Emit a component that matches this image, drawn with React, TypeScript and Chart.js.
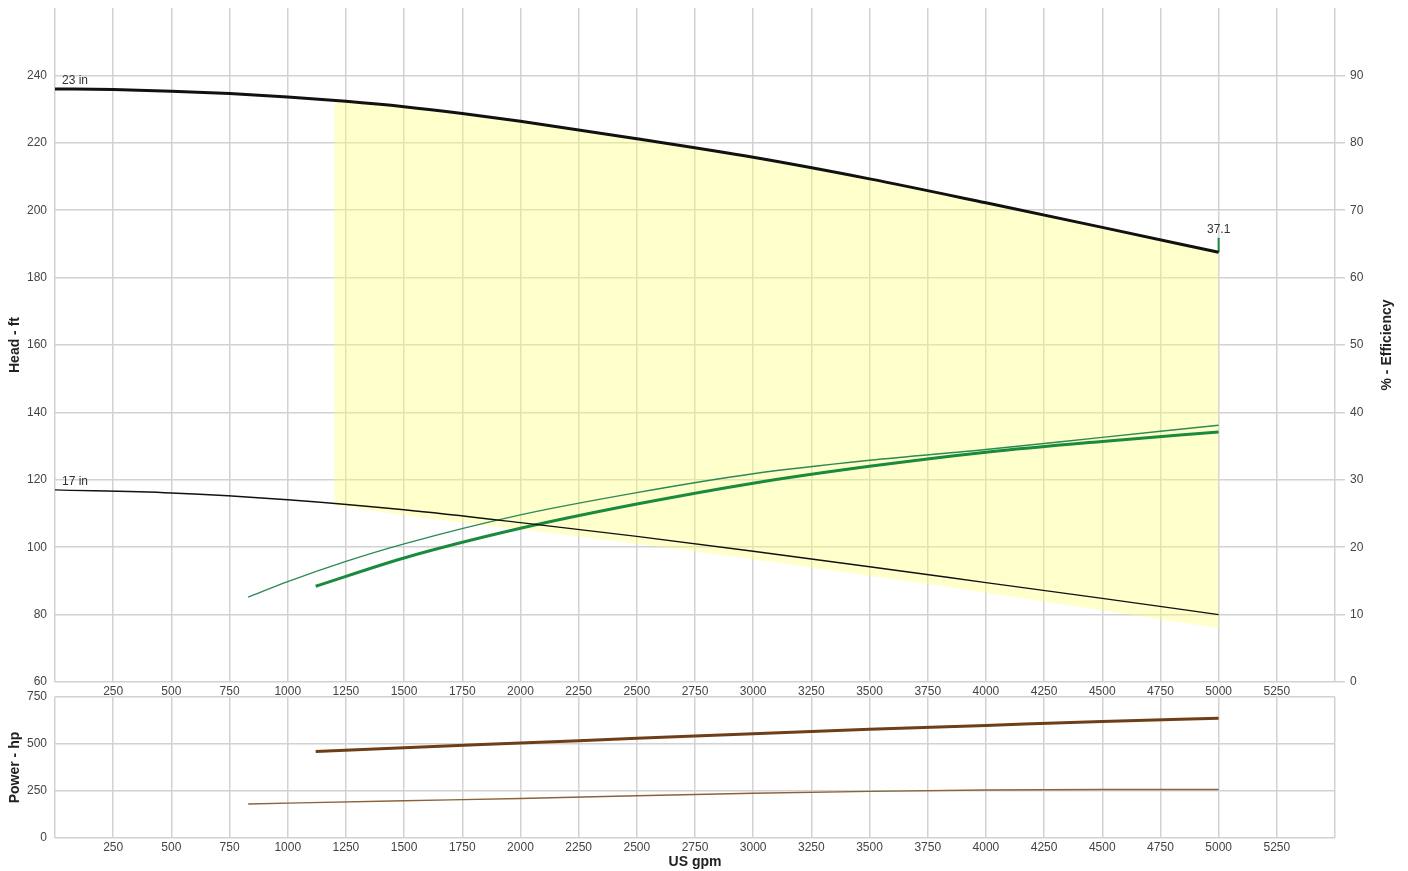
import React, { useEffect, useRef } from "react";
import { Chart, registerables } from "chart.js";

Chart.register(...registerables);

// ---- Data ----
const FLOW_TICK_STEP = 250;
const FLOW_MIN = 0;
const FLOW_MAX = 5500;

const HEAD_TICKS = { min: 60, max: 260, step: 20 };
const EFF_TICKS = { min: 0, max: 100, step: 10 };
const POWER_TICKS = { min: 0, max: 750, step: 250 };

const FLOW_23 = [0, 250, 500, 750, 1000, 1250, 1500, 1750, 2000, 2500, 3000, 3500, 4000, 4500, 5000];
const HEAD_23 = [236, 235.8, 235.3, 234.6, 233.6, 232.3, 230.7, 228.7, 226.4, 221.2, 215.7, 209.3, 202.2, 194.9, 187.5];

const FLOW_17 = [0, 500, 1000, 1500, 2000, 2500, 3000, 3500, 4000, 4500, 5000];
const HEAD_17 = [117, 116.1, 114.1, 111.1, 107.3, 103.2, 98.8, 94.2, 89.5, 84.8, 80];

const FLOW_EFF_23 = [1120, 1500, 2000, 2500, 3000, 3500, 4000, 4500, 5000];
const EFF_23 = [14.2, 18.4, 22.8, 26.4, 29.5, 32.0, 34.1, 35.7, 37.1];

const FLOW_EFF_17 = [830, 1000, 1250, 1500, 2000, 2500, 3000, 3500, 4000, 4500, 5000];
const EFF_17 = [12.6, 14.9, 17.9, 20.5, 24.8, 28.1, 30.9, 32.9, 34.5, 36.3, 38.1];

const FLOW_POW_23 = [1120, 1500, 2000, 2500, 3000, 3500, 4000, 4500, 5000];
const POW_23 = [460, 480, 505, 530, 555, 578, 599, 620, 637];

const FLOW_POW_17 = [830, 1500, 2000, 2500, 3000, 3500, 4000, 4500, 5000];
const POW_17 = [181, 198, 210, 225, 238, 248, 255, 258, 258];

// Allowable operating region (shaded)
const REGION_FLOW = [1200, 1500, 2000, 2500, 3000, 3500, 4000, 4500, 5000];
const REGION_UPPER = [232.6, 230.7, 226.4, 221.2, 215.7, 209.3, 202.2, 194.9, 187.5];
const REGION_LOWER = [112.5, 109.5, 105.3, 101.0, 96.4, 91.5, 86.5, 81.3, 76.0];

// Efficiency marker at the end of the 23 in curve
const MARKER_FLOW = [5000, 5000];
const MARKER_HEAD = [187.5, 191.8];
const MARKER_LABEL = "37.1";

const CURVE_LABELS = [
  { text: "23 in", flow: 30, head: 236 },
  { text: "17 in", flow: 30, head: 117 },
];

// ---- Styling ----
const FONT = "'Liberation Sans', Arial, sans-serif";
const GRID = "#d2d2d2";
const TICK_COLOR = "#444";
const TITLE_COLOR = "#222";

const pts = (xs: number[], ys: number[]) => xs.map((x, i) => ({ x, y: ys[i] }));

const flowTickCb = (v: any) => (v === FLOW_MIN || v === FLOW_MAX ? "" : String(v));

const fixSize = (w: number | null, h: number | null) => (s: any) => {
  if (w !== null) s.width = w;
  if (h !== null) s.height = h;
  s.paddingTop = 0;
  s.paddingBottom = 0;
  s.paddingLeft = 0;
  s.paddingRight = 0;
};

function xScale(height: number, title?: string) {
  return {
    type: "linear",
    min: FLOW_MIN,
    max: FLOW_MAX,
    afterFit: fixSize(null, height),
    border: { display: false },
    grid: { color: GRID, lineWidth: 1.5, drawTicks: false },
    ticks: {
      stepSize: FLOW_TICK_STEP,
      autoSkip: false,
      maxRotation: 0,
      padding: 2,
      color: TICK_COLOR,
      font: { size: 12, family: FONT },
      callback: flowTickCb,
    },
    title: title
      ? {
          display: true,
          text: title,
          color: TITLE_COLOR,
          font: { size: 14, weight: "bold", family: FONT },
          padding: { top: 0, bottom: 0 },
        }
      : { display: false },
  };
}

const topLabelsPlugin = {
  id: "topLabels",
  afterDatasetsDraw(chart: any) {
    const { ctx, scales } = chart;
    const x = scales.x;
    const y = scales.y;
    ctx.save();
    ctx.fillStyle = "#333";
    ctx.font = `12px ${FONT}`;
    ctx.textBaseline = "middle";
    ctx.textAlign = "left";
    CURVE_LABELS.forEach((l) => {
      ctx.fillText(l.text, x.getPixelForValue(l.flow), y.getPixelForValue(l.head) - 8);
    });
    ctx.textAlign = "center";
    ctx.fillText(
      MARKER_LABEL,
      x.getPixelForValue(MARKER_FLOW[1]),
      y.getPixelForValue(MARKER_HEAD[1]) - 8
    );
    // right axis title, reading bottom-to-top
    const area = chart.chartArea;
    ctx.translate(1387, (area.top + area.bottom) / 2);
    ctx.rotate(-Math.PI / 2);
    ctx.fillStyle = TITLE_COLOR;
    ctx.font = `bold 14px ${FONT}`;
    ctx.fillText("% - Efficiency", 0, 0);
    ctx.restore();
  },
};

export default function App() {
  const topRef = useRef<HTMLCanvasElement>(null);
  const botRef = useRef<HTMLCanvasElement>(null);

  useEffect(() => {
    Chart.defaults.font.family = FONT;
    const line = (data: any[], color: string, width: number, axis: string, extra: any = {}) => ({
      type: "line",
      data,
      borderColor: color,
      borderWidth: width,
      pointRadius: 0,
      fill: false,
      yAxisID: axis,
      cubicInterpolationMode: "monotone",
      ...extra,
    });

    const top = new Chart(topRef.current as HTMLCanvasElement, {
      type: "line",
      data: {
        datasets: [
          line(pts(FLOW_23, HEAD_23), "#111", 3, "y"),
          line(pts(FLOW_17, HEAD_17), "#111", 1.4, "y"),
          line(pts(FLOW_EFF_23, EFF_23), "#1a8a3c", 3, "y1"),
          line(pts(FLOW_EFF_17, EFF_17), "#2a8a55", 1.4, "y1"),
          line(pts(MARKER_FLOW, MARKER_HEAD), "#1a8a3c", 2, "y", { tension: 0, cubicInterpolationMode: "default" }),
          line(pts(REGION_FLOW, REGION_UPPER), "rgba(0,0,0,0)", 0, "y", {
            fill: "+1",
            backgroundColor: "rgba(255,255,120,0.38)",
          }),
          line(pts(REGION_FLOW, REGION_LOWER), "rgba(0,0,0,0)", 0, "y"),
        ],
      },
      options: {
        animation: false,
        responsive: true,
        maintainAspectRatio: false,
        layout: { autoPadding: false, padding: { top: 8, left: 0, right: 0, bottom: 0 } },
        plugins: { legend: { display: false }, tooltip: { enabled: false } },
        scales: {
          x: xScale(15),
          y: {
            type: "linear",
            position: "left",
            min: HEAD_TICKS.min,
            max: HEAD_TICKS.max,
            afterFit: fixSize(55, null),
            border: { display: false },
            grid: {
              lineWidth: 1.5,
              drawTicks: false,
              color: (c: any) => (c.tick && c.tick.value === HEAD_TICKS.max ? "rgba(0,0,0,0)" : GRID),
            },
            ticks: {
              stepSize: HEAD_TICKS.step,
              padding: 8,
              color: TICK_COLOR,
              font: { size: 12, family: FONT },
              callback: (v: any) => (v === HEAD_TICKS.max ? "" : String(v)),
            },
            title: {
              display: true,
              text: "Head - ft",
              color: TITLE_COLOR,
              font: { size: 14, weight: "bold", family: FONT },
              padding: { top: 7, bottom: 0 },
            },
          },
          y1: {
            type: "linear",
            position: "right",
            min: EFF_TICKS.min,
            max: EFF_TICKS.max,
            afterFit: fixSize(73, null),
            border: { display: false },
            grid: {
              drawOnChartArea: false,
              drawTicks: true,
              tickLength: 10,
              lineWidth: 1.5,
              color: (c: any) => (c.tick && c.tick.value === EFF_TICKS.max ? "rgba(0,0,0,0)" : GRID),
            },
            ticks: {
              stepSize: EFF_TICKS.step,
              padding: 5,
              color: TICK_COLOR,
              font: { size: 12, family: FONT },
              callback: (v: any) => (v === EFF_TICKS.max ? "" : String(v)),
            },
          },
        },
      } as any,
      plugins: [topLabelsPlugin],
    } as any);

    const bot = new Chart(botRef.current as HTMLCanvasElement, {
      type: "line",
      data: {
        datasets: [
          line(pts(FLOW_POW_23, POW_23), "#6e3f16", 3, "y"),
          line(pts(FLOW_POW_17, POW_17), "#8a623c", 1.4, "y"),
        ],
      },
      options: {
        animation: false,
        responsive: true,
        maintainAspectRatio: false,
        layout: { autoPadding: false, padding: { top: 12, left: 0, right: 73, bottom: 0 } },
        plugins: { legend: { display: false }, tooltip: { enabled: false } },
        scales: {
          x: xScale(33, "US gpm"),
          y: {
            type: "linear",
            position: "left",
            min: POWER_TICKS.min,
            max: POWER_TICKS.max,
            afterFit: fixSize(55, null),
            border: { display: false },
            grid: { lineWidth: 1.5, drawTicks: false, color: GRID },
            ticks: {
              stepSize: POWER_TICKS.step,
              padding: 8,
              color: TICK_COLOR,
              font: { size: 12, family: FONT },
            },
            title: {
              display: true,
              text: "Power - hp",
              color: TITLE_COLOR,
              font: { size: 14, weight: "bold", family: FONT },
              padding: { top: 7, bottom: 0 },
            },
          },
        },
      } as any,
    } as any);

    return () => {
      top.destroy();
      bot.destroy();
    };
  }, []);

  return (
    <div style={{ position: "absolute", left: 0, top: 0, width: 1408, height: 871, background: "#fff" }}>
      <div style={{ position: "absolute", left: 0, top: 0, width: 1408, height: 697 }}>
        <canvas ref={topRef} />
      </div>
      <div style={{ position: "absolute", left: 0, top: 685, width: 1408, height: 186 }}>
        <canvas ref={botRef} />
      </div>
    </div>
  );
}
